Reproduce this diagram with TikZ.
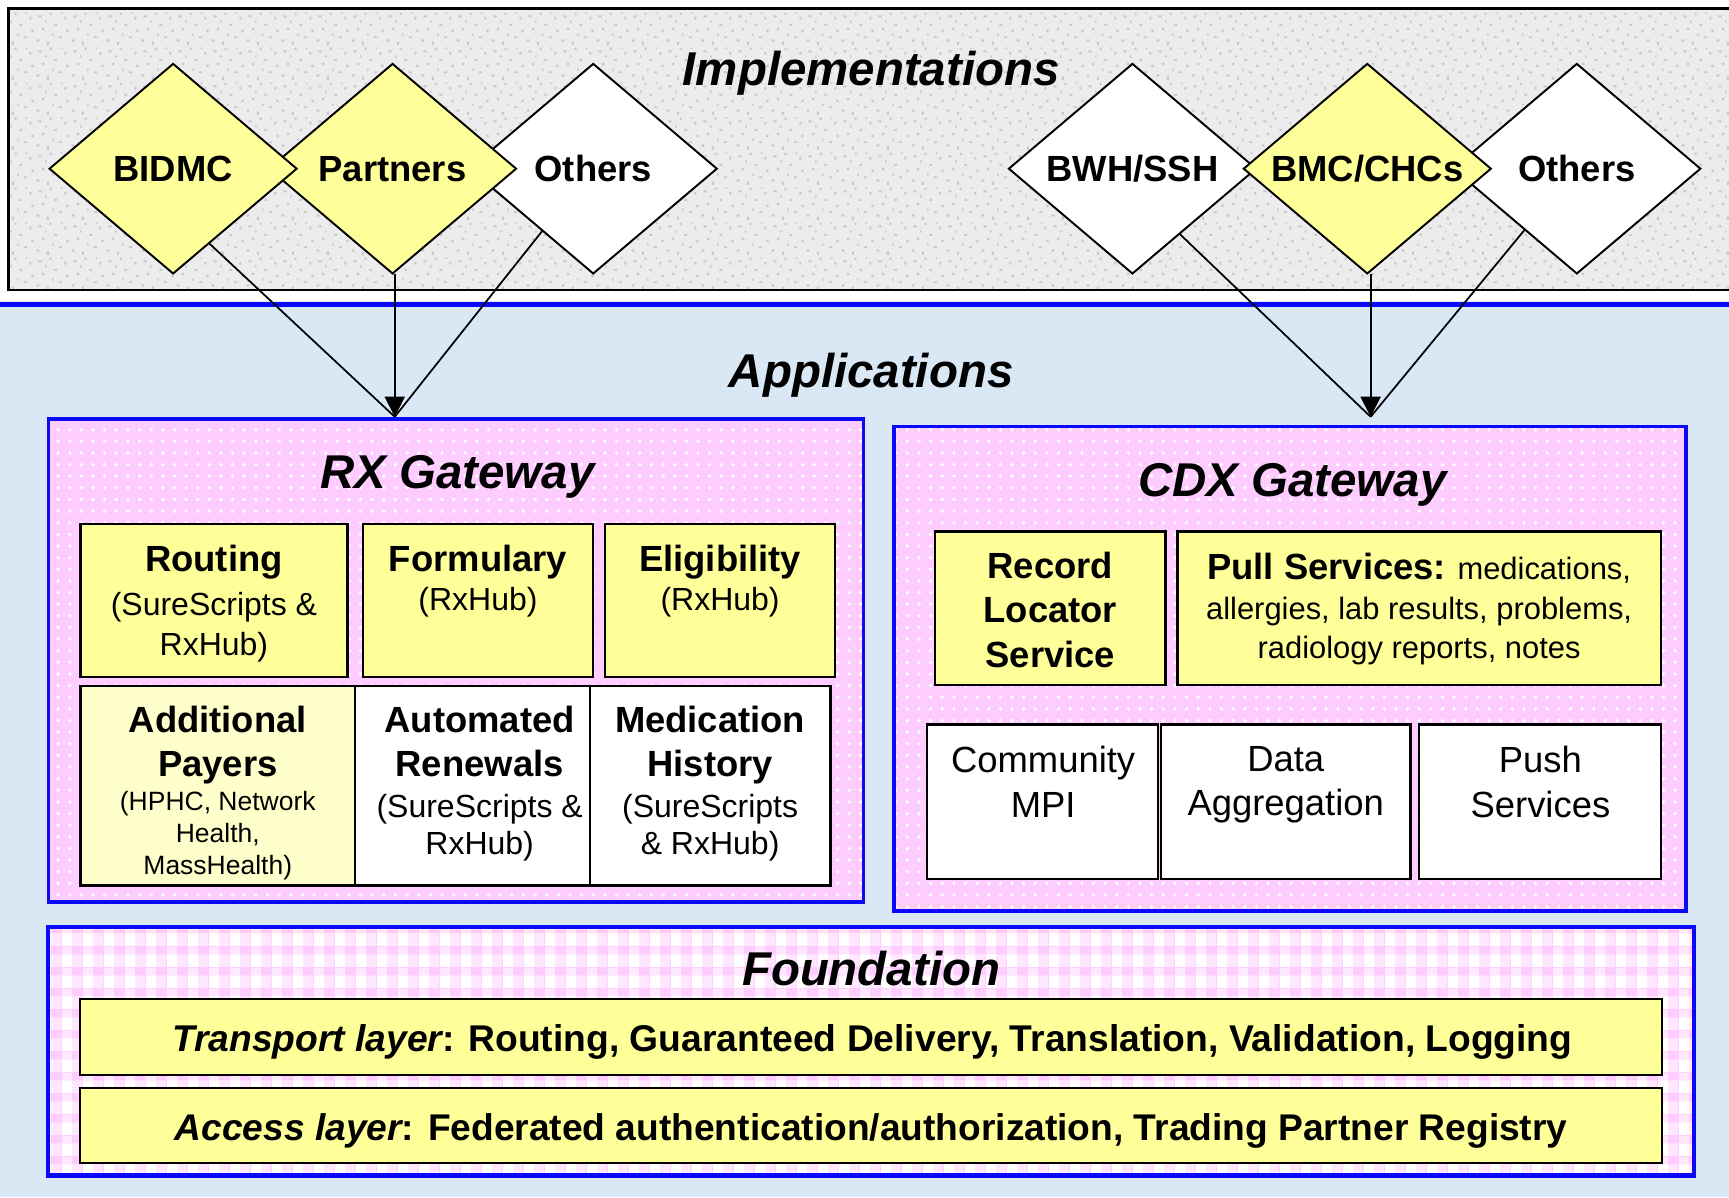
\documentclass[tikz,border=0pt]{standalone}
\usepackage{fontspec}
\setmainfont{Liberation Sans}
\usetikzlibrary{shapes.geometric,arrows.meta,patterns,calc}
\definecolor{ybox}{RGB}{255,255,153}
\definecolor{ylight}{RGB}{255,255,204}
\definecolor{gpink}{RGB}{255,204,255}
\definecolor{gblue}{RGB}{10,10,245}
\definecolor{implgray}{RGB}{236,236,236}
\definecolor{speck}{RGB}{200,200,200}
\definecolor{appblue}{RGB}{218,232,245}
\newcommand{\myfs}[2]{\fontsize{#1}{#2}\selectfont}
\pgfdeclarepatternformonly{gingham}{\pgfpointorigin}{\pgfqpoint{5.3pt}{5.3pt}}{\pgfqpoint{5.3pt}{5.3pt}}{%
  \pgfpathrectangle{\pgfqpoint{0pt}{0pt}}{\pgfqpoint{2.6pt}{3.3pt}}%
  \pgfusepath{fill}}
\pgfdeclarepatternformonly{ginghamlight}{\pgfpointorigin}{\pgfqpoint{5.3pt}{5.3pt}}{\pgfqpoint{5.3pt}{5.3pt}}{%
  \pgfpathrectangle{\pgfqpoint{0pt}{3.3pt}}{\pgfqpoint{2.6pt}{2pt}}%
  \pgfpathrectangle{\pgfqpoint{2.6pt}{0pt}}{\pgfqpoint{2.7pt}{3.3pt}}%
  \pgfusepath{fill}}
\pgfdeclarepatternformonly{granite}{\pgfpointorigin}{\pgfqpoint{9pt}{9pt}}{\pgfqpoint{9pt}{9pt}}{%
  \pgfpathrectangle{\pgfqpoint{0.4pt}{1.1pt}}{\pgfqpoint{0.7pt}{0.6pt}}%
  \pgfpathrectangle{\pgfqpoint{3.1pt}{0.3pt}}{\pgfqpoint{0.5pt}{0.8pt}}%
  \pgfpathrectangle{\pgfqpoint{6.2pt}{2.0pt}}{\pgfqpoint{0.8pt}{0.5pt}}%
  \pgfpathrectangle{\pgfqpoint{1.8pt}{4.1pt}}{\pgfqpoint{0.6pt}{0.6pt}}%
  \pgfpathrectangle{\pgfqpoint{5.0pt}{5.2pt}}{\pgfqpoint{0.7pt}{0.5pt}}%
  \pgfpathrectangle{\pgfqpoint{7.6pt}{6.8pt}}{\pgfqpoint{0.5pt}{0.7pt}}%
  \pgfpathrectangle{\pgfqpoint{0.9pt}{7.4pt}}{\pgfqpoint{0.8pt}{0.5pt}}%
  \pgfpathrectangle{\pgfqpoint{3.8pt}{8.0pt}}{\pgfqpoint{0.5pt}{0.6pt}}%
  \pgfpathrectangle{\pgfqpoint{8.1pt}{3.6pt}}{\pgfqpoint{0.6pt}{0.6pt}}%
  \pgfpathrectangle{\pgfqpoint{4.4pt}{2.7pt}}{\pgfqpoint{0.4pt}{0.5pt}}%
  \pgfpathrectangle{\pgfqpoint{6.6pt}{8.3pt}}{\pgfqpoint{0.5pt}{0.4pt}}%
  \pgfpathrectangle{\pgfqpoint{2.6pt}{6.0pt}}{\pgfqpoint{0.4pt}{0.6pt}}%
  \pgfusepath{fill}}
\begin{document}
\begin{tikzpicture}[x=0.01cm,y=-0.01cm,
  every node/.style={inner sep=0pt, outer sep=0pt},
  head/.style={font=\bfseries\itshape\myfs{12.23}{14}, anchor=base},
  dia/.style={draw=black, line width=0.5pt, shape=diamond, minimum width=2.24cm, minimum height=1.9cm, font=\bfseries\myfs{9.39}{11}, text height=6.8pt, text depth=0pt},
  gate/.style={fill=gpink, postaction={pattern=dots, pattern color=white}, postaction={draw=gblue, line width=0.9pt}},
  found/.style={fill=gpink, postaction={pattern=ginghamlight, pattern color=white!55!gpink}, postaction={pattern=gingham, pattern color=white}, postaction={draw=gblue, line width=1.1pt}},
  cell/.style={draw=black, line width=0.6pt, rectangle},
  ttl/.style={anchor=north, align=center, font=\bfseries\myfs{9.39}{11.38}},
  sub/.style={anchor=north, align=center, font=\myfs{8.25}{10.24}},
  arr/.style={line width=0.45pt, draw=black},
  tip/.style={-{Triangle[length=5.2pt,width=5.2pt]}}]
\useasboundingbox (0,0) rectangle (1568,1086);
\fill[white] (0,0) rectangle (1568,1086);
% backgrounds
\fill[appblue] (0,273) rectangle (1568,1086);
\fill[implgray] (8,8) rectangle (1580,263);
\fill[pattern=granite, pattern color=speck] (8,8) rectangle (1580,263);
\draw[line width=0.7pt] (8,8) rectangle (1580,263);
\draw[gblue, line width=1.4pt] (0,276) -- (1568,276);
% headings
\node[head] (impl) at (790,78) {Implementations};
\node[head] (appl) at (790,351) {Applications};
% diamonds
\node[dia, fill=white] (others1) at (538,153) {\makebox[0pt]{Others}};
\node[dia, fill=ybox] (partners) at (356,153) {\makebox[0pt]{Partners}};
\node[dia, fill=ybox] (bidmc) at (157,153) {\makebox[0pt]{BIDMC}};
\node[dia, fill=white] (bwh) at (1027,153) {\makebox[0pt]{BWH/SSH}};
\node[dia, fill=white] (others2) at (1430,153) {\makebox[0pt]{Others}};
\node[dia, fill=ybox] (bmc) at (1240,153) {\makebox[0pt]{BMC/CHCs}};
% RX gateway
\node[gate, minimum width=7.39cm, minimum height=4.38cm] (rx) at (413.5,599) {};
\node[head] (rxt) at (415,443) {RX Gateway};
\node[cell, fill=ybox, minimum width=2.42cm, minimum height=1.39cm] (routing) at (194,544.5) {};
\node[ttl] (routing-t) at (194,494) {Routing};
\node[sub] (routing-s) at (194,537) {(SureScripts \&\\RxHub)};
\node[cell, fill=ybox, minimum width=2.09cm, minimum height=1.39cm] (formulary) at (433.5,544.5) {};
\node[ttl] (formulary-t) at (433.5,494) {Formulary};
\node[sub] (formulary-s) at (433.5,533) {(RxHub)};
\node[cell, fill=ybox, minimum width=2.08cm, minimum height=1.39cm] (elig) at (653,544.5) {};
\node[ttl] (elig-t) at (653,494) {Eligibility};
\node[sub] (elig-s) at (653,533) {(RxHub)};
\node[cell, fill=ylight, minimum width=2.49cm, minimum height=1.81cm] (payers) at (197.5,712.5) {};
\node[ttl] (payers-t) at (197.5,640) {Additional\\Payers};
\node[sub, font=\myfs{6.83}{8.25}] (payers-s) at (197.5,718) {(HPHC, Network\\Health,\\MassHealth)};
\node[cell, fill=white, minimum width=2.13cm, minimum height=1.81cm] (renew) at (428.5,712.5) {};
\node[ttl] (renew-t) at (435,640) {Automated\\Renewals};
\node[sub, font=\myfs{8.25}{9.67}] (renew-s) at (435,720) {(SureScripts \&\\RxHub)};
\node[cell, fill=white, minimum width=2.18cm, minimum height=1.81cm] (medhist) at (644,712.5) {};
\node[ttl] (medhist-t) at (644,640) {Medication\\History};
\node[sub, font=\myfs{8.25}{9.67}] (medhist-s) at (644,720) {(SureScripts\\\& RxHub)};
% CDX gateway
\node[gate, minimum width=7.18cm, minimum height=4.39cm] (cdx) at (1170,606.5) {};
\node[head] (cdxt) at (1172,450) {CDX Gateway};
\node[cell, fill=ybox, minimum width=2.09cm, minimum height=1.39cm] (rls) at (952.5,551.5) {};
\node[ttl] (rls-t) at (952.5,501) {Record\\Locator\\Service};
\node[cell, fill=ybox, minimum width=4.38cm, minimum height=1.39cm] (pull) at (1287,551.5) {};
\node[anchor=north, align=center, font=\myfs{7.97}{10.1}] (pull-t) at (1287,502) {{\bfseries\myfs{9.39}{10.1}Pull Services:} medications,\\allergies, lab results, problems,\\radiology reports, notes};
\node[cell, fill=white, minimum width=2.09cm, minimum height=1.40cm] (mpi) at (945.5,727) {};
\node[anchor=north, align=center, font=\myfs{9.39}{11.38}] (mpi-t) at (946,677) {Community\\MPI};
\node[cell, fill=white, minimum width=2.26cm, minimum height=1.40cm] (aggr) at (1166,727) {};
\node[anchor=north, align=center, font=\myfs{9.39}{11.38}] (aggr-t) at (1166,677) {Data\\Aggregation};
\node[cell, fill=white, minimum width=2.19cm, minimum height=1.40cm] (push) at (1396.5,727) {};
\node[anchor=north, align=center, font=\myfs{9.39}{11.38}] (push-t) at (1397,677) {Push\\Services};
% Foundation
\node[found, minimum width=14.92cm, minimum height=2.25cm] (foundation) at (790,953.5) {};
\node[head] (found-t) at (790,894) {Foundation};
\node[cell, fill=ybox, minimum width=14.34cm, minimum height=0.69cm] (transport) at (790,940.5) {};
\node[anchor=base, font=\bfseries\myfs{9.6}{11}] (transport-t) at (791,954) {{\itshape Transport layer}: Routing, Guaranteed Delivery, Translation, Validation, Logging};
\node[cell, fill=ybox, minimum width=14.34cm, minimum height=0.68cm] (access) at (790,1021) {};
\node[anchor=base, font=\bfseries\myfs{9.58}{11}] (access-t) at (790,1034) {{\itshape Access layer}: Federated authentication/authorization, Trading Partner Registry};
% arrows
\coordinate (rxtip) at (358,378);
\coordinate (cdxtip) at (1243,378);
\draw[arr] ($(bidmc.south)!0.29!(bidmc.east)$) -- (rxtip);
\draw[arr] ($(others1.south)!0.41!(others1.west)$) -- (rxtip);
\draw[arr, tip] (partners.south -| rxtip) -- (rxtip);
\draw[arr] ($(bwh.south)!0.38!(bwh.east)$) -- (cdxtip);
\draw[arr] ($(others2.south)!0.42!(others2.west)$) -- (cdxtip);
\draw[arr, tip] (bmc.south -| cdxtip) -- (cdxtip);
\end{tikzpicture}
\end{document}
